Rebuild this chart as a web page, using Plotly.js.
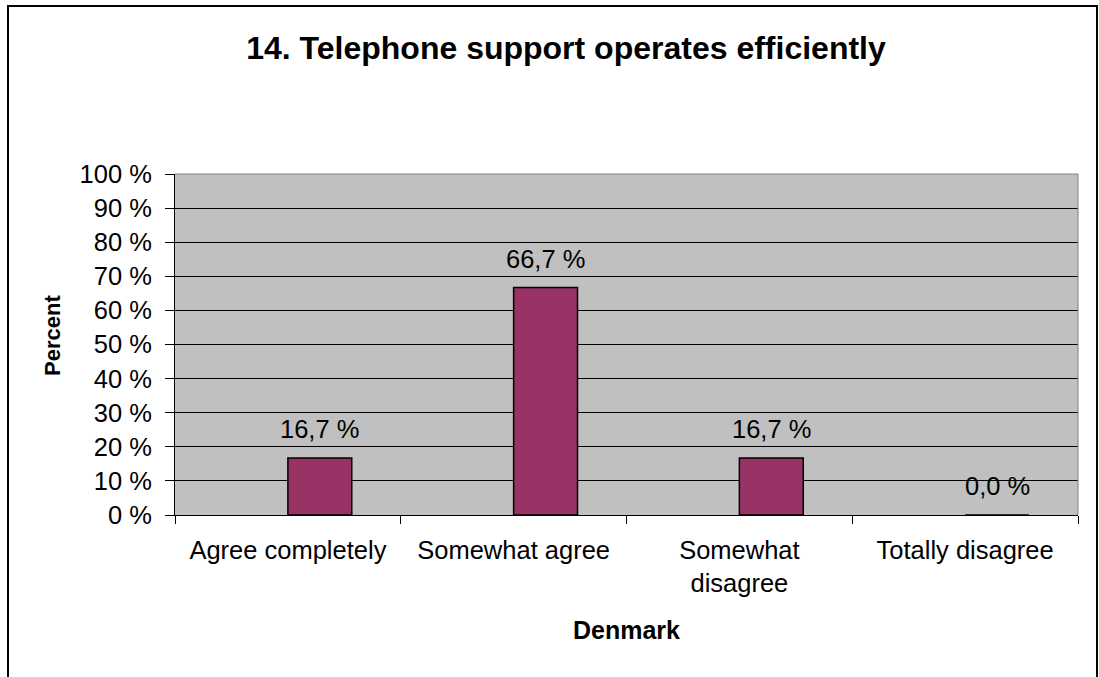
<!DOCTYPE html>
<html>
<head>
<meta charset="utf-8">
<script src="https://cdn.plot.ly/plotly-3.0.1.min.js"></script>
<style>html,body{margin:0;padding:0;background:#fff;}#chart{width:1099px;height:677px;}</style>
</head>
<body>
<div id="chart"></div>
<script>
const categories = ["Agree completely", "Somewhat agree", "Somewhat<br>disagree", "Totally disagree"];
const values = [16.7, 66.7, 16.7, 0.0];
const valueLabels = ["16,7 %", "66,7 %", "16,7 %", "0,0 %"];
const yTickVals = [0, 10, 20, 30, 40, 50, 60, 70, 80, 90, 100];
const yTickText = ["0 %", "10 %", "20 %", "30 %", "40 %", "50 %", "60 %", "70 %", "80 %", "90 %", "100 %"];

const FONT = "Liberation Sans, Arial, Helvetica, sans-serif";
const TXT = 25.5;
const W = 1099, H = 677;
const M = {l: 175, r: 21, t: 174, b: 162};
const pw = W - M.l - M.r;
const ph = H - M.t - M.b;
const catW = pw / categories.length;
const barW = 0.283;

const trace = {
  type: "bar",
  x: categories,
  y: values,
  width: barW,
  offset: 0,
  marker: {color: "#993366", line: {color: "#000000", width: 1.5}},
  hoverinfo: "skip"
};

const annotations = categories.map((c, i) => ({
  x: c, y: values[i], xref: "x", yref: "y",
  text: valueLabels[i], showarrow: false,
  xanchor: "center", yanchor: "middle",
  xshift: barW * catW / 2, yshift: 29,
  font: {family: FONT, size: TXT, color: "#000"}
}));
annotations.push({
  xref: "paper", yref: "paper",
  x: (52 - M.l) / pw, y: 1 - (336 - M.t) / ph,
  xanchor: "center", yanchor: "middle",
  text: "<b>Percent</b>",
  textangle: -90, showarrow: false, font: {family: FONT, size: 22, color: "#000"}
});
annotations.push({
  xref: "paper", yref: "paper",
  x: 0.5, y: -(630 - (H - M.b)) / ph,
  xanchor: "center", yanchor: "middle",
  text: "<b>Denmark</b>",
  showarrow: false, font: {family: FONT, size: 25, color: "#000"}
});

const layout = {
  width: W, height: H,
  margin: M,
  paper_bgcolor: "#ffffff",
  plot_bgcolor: "#c0c0c0",
  showlegend: false,
  title: {
    text: "<b>14. Telephone support operates efficiently</b>",
    font: {family: FONT, size: 32, color: "#000"},
    x: 566 / W, xanchor: "center", xref: "container",
    y: 1 - 48 / H, yanchor: "middle", yref: "container"
  },
  xaxis: {
    type: "category",
    tickson: "boundaries",
    ticks: "outside", ticklen: 8, tickcolor: "#000", tickwidth: 1,
    showline: true, linecolor: "#000", linewidth: 1,
    showgrid: false,
    tickfont: {family: FONT, size: TXT, color: "#000"},
    ticklabelstandoff: 12,
    fixedrange: true
  },
  yaxis: {
    range: [0, 100],
    tickvals: yTickVals, ticktext: yTickText,
    ticks: "outside", ticklen: 9, tickcolor: "#000", tickwidth: 1,
    showline: true, linecolor: "#000", linewidth: 1,
    showgrid: true, gridcolor: "#000", gridwidth: 1,
    zeroline: false,
    tickfont: {family: FONT, size: TXT, color: "#000"},
    ticklabelstandoff: 8,
    fixedrange: true
  },
  annotations: annotations,
  shapes: [
    {type: "line", xref: "paper", yref: "paper", x0: 0, x1: 1, y0: 1, y1: 1, line: {color: "#808080", width: 1}},
    {type: "line", xref: "paper", yref: "paper", x0: 1, x1: 1, y0: 0, y1: 1, line: {color: "#808080", width: 1}},
    {type: "rect", xref: "paper", yref: "paper",
     x0: (8 - M.l) / pw, x1: (1097 - M.l) / pw,
     y0: -(H + 10 - (H - M.b)) / ph, y1: 1 + (M.t - 6) / ph,
     line: {color: "#000", width: 2}, fillcolor: "rgba(0,0,0,0)", layer: "above"}
  ]
};

Plotly.newPlot("chart", [trace], layout, {displayModeBar: false, staticPlot: true});
</script>
</body>
</html>
